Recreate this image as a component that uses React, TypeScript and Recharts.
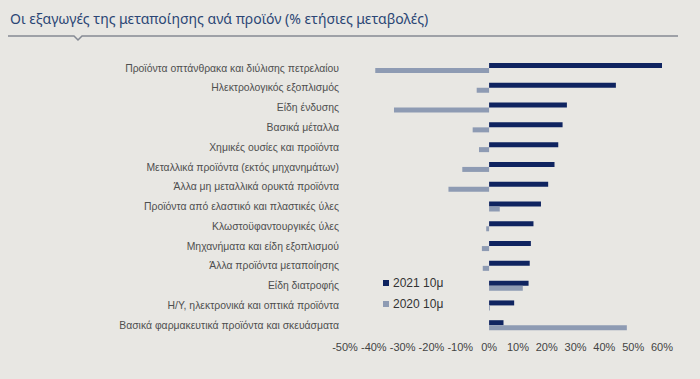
import { BarChart, Bar, XAxis, YAxis } from "recharts";

const categories = [
    "Προϊόντα οπτάνθρακα και διύλισης πετρελαίου",
    "Ηλεκτρολογικός εξοπλισμός",
    "Είδη ένδυσης",
    "Βασικά μέταλλα",
    "Χημικές ουσίες και προϊόντα",
    "Μεταλλικά προϊόντα (εκτός μηχανημάτων)",
    "Άλλα μη μεταλλικά ορυκτά προϊόντα",
    "Προϊόντα από ελαστικό και πλαστικές ύλες",
    "Κλωστοϋφαντουργικές ύλες",
    "Μηχανήματα και είδη εξοπλισμού",
    "Άλλα προϊόντα μεταποίησης",
    "Είδη διατροφής",
    "Η/Υ, ηλεκτρονικά και οπτικά προϊόντα",
    "Βασικά φαρμακευτικά προϊόντα και σκευάσματα",
];

const values2021 = [60, 44, 27, 25.5, 24, 22.7, 20.5, 18, 15.4, 14.5, 14.1, 13.7, 8.7, 5];
const values2020 = [-39.5, -4.3, -33, -5.7, -3.5, -9.3, -14.1, 3.7, -1, -2.5, -2.2, 11.7, 0.3, 47.8];

const xTicks = [-50, -40, -30, -20, -10, 0, 10, 20, 30, 40, 50, 60];

const series = [
    { key: "y2021", name: "2021 10μ", color: "#0f2460" },
    { key: "y2020", name: "2020 10μ", color: "#8e9bb3" },
];

const data = categories.map((name, i) => ({
    name,
    y2021: values2021[i],
    y2020: values2020[i],
}));

// legend sits inside the plot, left of the short bars
const LegendBox = () => (
    <div
        style={{
            position: "absolute",
            left: 383,
            top: 272,
            fontFamily: "'Liberation Sans', Arial, sans-serif",
            fontSize: 12,
            color: "#333",
        }}
    >
        {series.map((s) => (
            <div key={s.key} style={{ display: "flex", alignItems: "center", height: 21 }}>
                <span style={{ width: 6, height: 6, background: s.color, marginRight: 4, display: "inline-block" }} />
                {s.name}
            </div>
        ))}
    </div>
);

export default function App() {
    return (
        <div
            style={{
                position: "fixed",
                left: 0,
                top: 0,
                width: 700,
                height: 379,
                background: "#e8e7e3",
                overflow: "hidden",
            }}
        >
            <div
                style={{
                    position: "absolute",
                    left: 10,
                    top: 9,
                    fontFamily: "'Noto Sans', sans-serif",
                    fontSize: 14,
                    color: "#2b4675",
                    whiteSpace: "nowrap",
                }}
            >
                Οι εξαγωγές της μεταποίησης ανά προϊόν (% ετήσιες μεταβολές)
            </div>
            <svg style={{ position: "absolute", left: 0, top: 0 }} width={700} height={50}>
                <polyline
                    points="8,36 74,36 78,40 82,36 678,36"
                    fill="none"
                    stroke="#858a94"
                    strokeWidth={1.5}
                />
            </svg>
            <div style={{ position: "absolute", left: 0, top: 0 }}>
                <BarChart
                    width={700}
                    height={379}
                    data={data}
                    layout="vertical"
                    barSize={5}
                    barGap={0}
                    margin={{ top: 58, right: 38, left: 0, bottom: 24 }}
                >
                    <XAxis
                        type="number"
                        domain={[-50, 60]}
                        ticks={xTicks}
                        interval={0}
                        axisLine={false}
                        tickLine={false}
                        height={20}
                        tickFormatter={(v) => `${v}%`}
                        tick={{ fill: "#444", fontSize: 11, fontFamily: "'Liberation Sans', Arial, sans-serif" }}
                    />
                    <YAxis
                        type="category"
                        dataKey="name"
                        width={345}
                        interval={0}
                        axisLine={false}
                        tickLine={false}
                        tickMargin={0}
                        tick={{ fill: "#4f4f4f", fontSize: 10.4, fontFamily: "'Liberation Sans', Arial, sans-serif" }}
                    />
                    {series.map((s) => (
                        <Bar
                            key={s.key}
                            dataKey={s.key}
                            name={s.name}
                            fill={s.color}
                            isAnimationActive={false}
                        />
                    ))}
                </BarChart>
            </div>
            <LegendBox />
        </div>
    );
}
